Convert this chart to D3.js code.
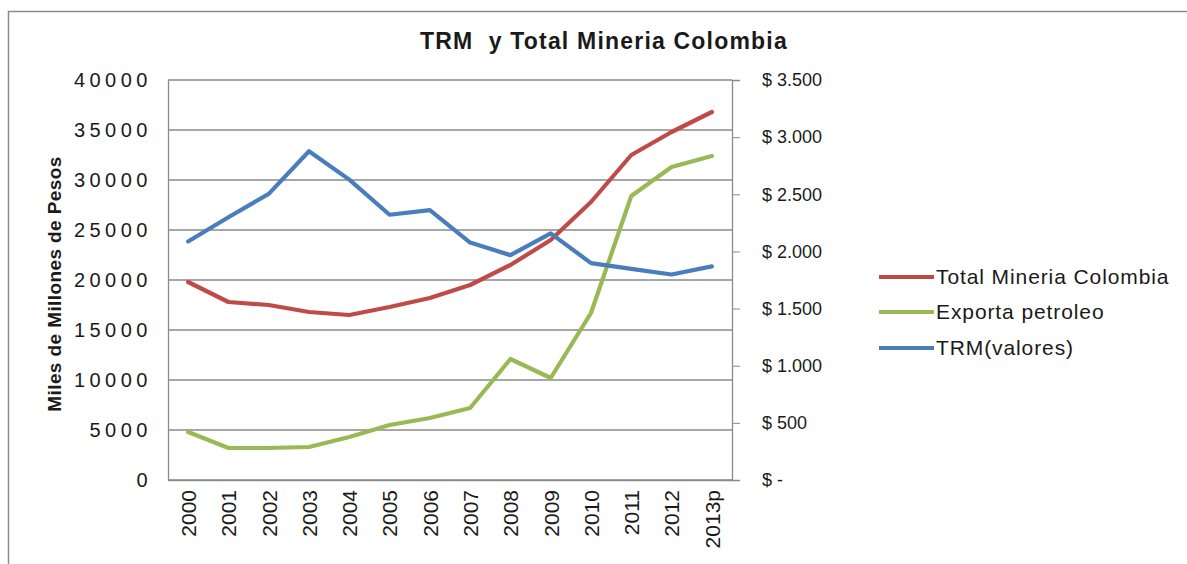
<!DOCTYPE html>
<html>
<head>
<meta charset="utf-8">
<script src="https://cdn.jsdelivr.net/npm/d3@7"></script>
<style>
  html, body { margin: 0; padding: 0; background: #fff; }
  svg { display: block; }
  text { font-family: "Liberation Sans", Arial, sans-serif; fill: #1a1a1a; }
</style>
</head>
<body>
<svg id="chart" width="1187" height="564"></svg>
<script>
const categories = ["2000","2001","2002","2003","2004","2005","2006","2007","2008","2009","2010","2011","2012","2013p"];
const totalMineria = [19800,17800,17500,16800,16500,17300,18200,19500,21500,24000,27800,32500,34800,36800];
const exportaPetroleo = [4800,3200,3200,3300,4300,5500,6200,7200,12100,10200,16700,28400,31300,32400];
const trmValores = [2087,2299,2504,2877,2628,2321,2361,2078,1967,2158,1898,1848,1798,1869];
const leftTicks = [0,5000,10000,15000,20000,25000,30000,35000,40000];
const rightTicks = [0,500,1000,1500,2000,2500,3000,3500];
const rightTickLabels = ["$ -","$ 500","$ 1.000","$ 1.500","$ 2.000","$ 2.500","$ 3.000","$ 3.500"];
const seriesNames = ["Total Mineria Colombia","Exporta petroleo","TRM(valores)"];
const seriesColors = ["#BE4B48","#98B954","#4A7EBB"];

const svg = d3.select("#chart");
const M = {left: 168, right: 732, top: 80, bottom: 480};

// outer chart border
svg.append("rect").attr("x", 8.5).attr("y", 11.5).attr("width", 1190).attr("height", 600)
  .attr("fill", "none").attr("stroke", "#8c8c8c").attr("stroke-width", 1.5);

const x = d3.scalePoint().domain(categories).range([M.left, M.right]).padding(0.5);
const yL = d3.scaleLinear().domain([0, 40000]).range([M.bottom, M.top]);
const yR = d3.scaleLinear().domain([0, 3500]).range([M.bottom, M.top]);

// gridlines
svg.append("g").selectAll("line").data(leftTicks).join("line")
  .attr("x1", M.left).attr("x2", M.right)
  .attr("y1", d => yL(d)).attr("y2", d => yL(d))
  .attr("stroke", "#8a8a8a").attr("stroke-width", 1.3);

// left axis
const gL = svg.append("g").attr("transform", `translate(${M.left},0)`)
  .call(d3.axisLeft(yL).tickValues(leftTicks).tickSize(0).tickPadding(16).tickFormat(d3.format("d")));
gL.select(".domain").attr("stroke", "#8a8a8a").attr("stroke-width", 1.3);
gL.selectAll("text").style("font-size", "20px").style("letter-spacing", "4.5px")
  .attr("fill", "#1a1a1a").style("font-family", '"Liberation Sans", Arial, sans-serif');

// right axis
const gR = svg.append("g").attr("transform", `translate(${M.right},0)`)
  .call(d3.axisRight(yR).tickValues(rightTicks).tickSize(8).tickPadding(22)
    .tickFormat((d, i) => rightTickLabels[i]));
gR.select(".domain").attr("stroke", "#8a8a8a").attr("stroke-width", 1.3);
gR.selectAll("line").attr("stroke", "#8a8a8a");
gR.selectAll("text").style("font-size", "18px")
  .attr("fill", "#1a1a1a").style("font-family", '"Liberation Sans", Arial, sans-serif');

// bottom axis
const gB = svg.append("g").attr("transform", `translate(0,${M.bottom})`)
  .call(d3.axisBottom(x).tickSize(0).tickPadding(0));
gB.select(".domain").attr("stroke", "#8a8a8a").attr("stroke-width", 1.3);
gB.selectAll("text")
  .attr("transform", "rotate(-90)")
  .attr("x", -10).attr("y", 0).attr("dy", "0.35em")
  .style("text-anchor", "end").style("font-size", "21px")
  .attr("fill", "#1a1a1a").style("font-family", '"Liberation Sans", Arial, sans-serif');

// lines
const data = [
  {vals: totalMineria, scale: yL},
  {vals: exportaPetroleo, scale: yL},
  {vals: trmValores, scale: yR}
];
data.forEach((s, i) => {
  const line = d3.line().x((d, j) => x(categories[j])).y(d => s.scale(d));
  svg.append("path").datum(s.vals).attr("d", line)
    .attr("fill", "none").attr("stroke", seriesColors[i]).attr("stroke-width", 4.2)
    .attr("stroke-linejoin", "round").attr("stroke-linecap", "round");
});

// title
svg.append("text").attr("x", 604).attr("y", 49).attr("text-anchor", "middle")
  .style("font-size", "23px").style("font-weight", "bold").style("letter-spacing", "1.2px")
  .style("white-space", "pre")
  .text("TRM  y Total Mineria Colombia");

// y axis title
svg.append("text").attr("transform", "translate(61,284) rotate(-90)").attr("text-anchor", "middle")
  .style("font-size", "19px").style("font-weight", "bold").style("letter-spacing", "0.4px")
  .text("Miles de Millones de Pesos");

// legend
const legendY = [277, 312, 348];
const lg = svg.append("g");
seriesNames.forEach((n, i) => {
  lg.append("line").attr("x1", 879).attr("x2", 934).attr("y1", legendY[i]).attr("y2", legendY[i])
    .attr("stroke", seriesColors[i]).attr("stroke-width", 4.2);
  lg.append("text").attr("x", 936).attr("y", legendY[i]).attr("dy", "0.35em")
    .style("font-size", "21px").style("letter-spacing", "0.9px").text(n);
});
</script>
</body>
</html>
